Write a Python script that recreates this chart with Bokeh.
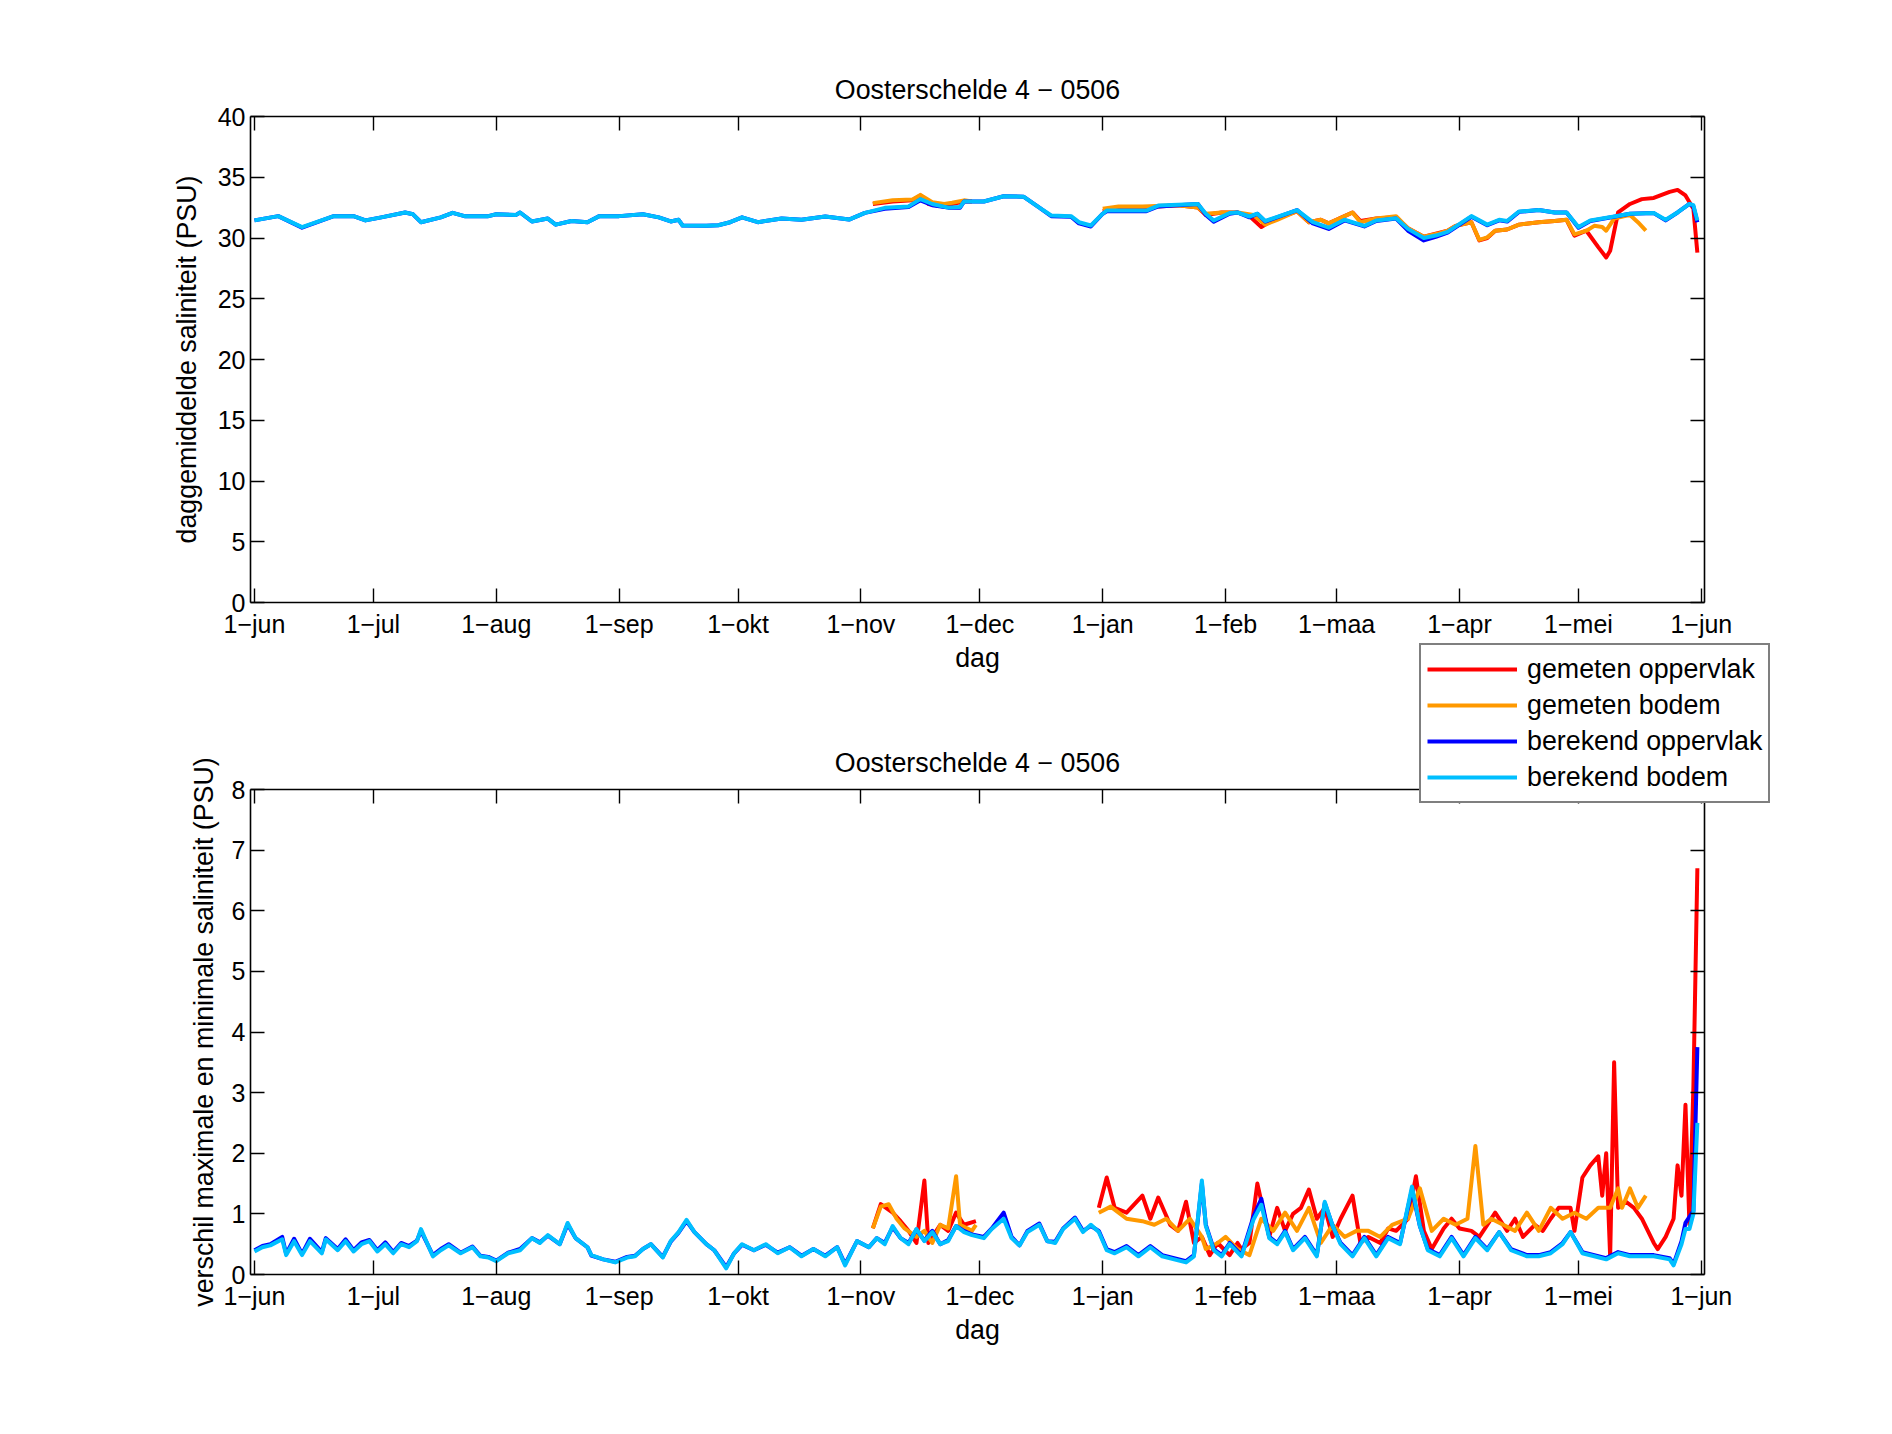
from bokeh.plotting import figure
from bokeh.models import FixedTicker, LinearAxis, Legend, LegendItem, Range1d
from bokeh.layouts import column
from bokeh.embed import file_html
from bokeh.resources import INLINE

# ---------------- data (day 0 = 1 June 2005) ----------------
month_days = [0, 30, 61, 92, 122, 153, 183, 214, 245, 273, 304, 334, 365]
month_labels = ["1\u2212jun", "1\u2212jul", "1\u2212aug", "1\u2212sep", "1\u2212okt", "1\u2212nov",
                "1\u2212dec", "1\u2212jan", "1\u2212feb", "1\u2212maa", "1\u2212apr", "1\u2212mei", "1\u2212jun"]

# top panel: daily mean salinity
ber_bodem_day = [0, 6, 12, 20, 25, 28, 32, 38, 40, 42, 47, 50, 53, 59, 61, 66, 67, 70, 74, 76, 80, 84, 87, 92,
                 98, 102, 105, 107, 108, 114, 117, 120, 123, 127, 133, 138, 144, 150, 154, 159, 165, 168, 171,
                 175, 178, 179, 184, 189, 194, 198, 201, 206, 208, 211, 214, 215, 225, 228, 238, 240, 242, 246,
                 248, 251, 253, 255, 263, 267, 271, 275, 280, 283, 288, 291, 295, 298, 301, 307, 311, 314, 316,
                 319, 324, 328, 331, 334, 337, 343, 347, 353, 356, 359, 362, 363, 364]
ber_bodem_val = [31.45, 31.8, 30.9, 31.8, 31.8, 31.45, 31.7, 32.1, 31.95, 31.3, 31.7, 32.07, 31.8, 31.8, 31.95,
                 31.9, 32.1, 31.36, 31.6, 31.1, 31.4, 31.3, 31.8, 31.8, 31.95, 31.7, 31.36, 31.5, 31.03, 31.0,
                 31.05, 31.3, 31.7, 31.3, 31.6, 31.5, 31.77, 31.52, 32.07, 32.48, 32.6, 33.2, 32.8, 32.5, 32.55,
                 33.0, 33.0, 33.44, 33.4, 32.5, 31.85, 31.8, 31.3, 31.03, 32.0, 32.26, 32.26, 32.67, 32.8, 32.0,
                 31.44, 32.05, 32.1, 31.77, 32.0, 31.4, 32.3, 31.3, 30.85, 31.5, 31.0, 31.44, 31.63, 30.75, 30.0,
                 30.2, 30.5, 31.8, 31.1, 31.5, 31.4, 32.18, 32.3, 32.1, 32.1, 30.9, 31.44, 31.77, 32.0, 32.05,
                 31.5, 32.1, 32.8, 32.7, 31.44]
ber_opp_day = ber_bodem_day
ber_opp_val = [31.45, 31.8, 30.85, 31.8, 31.8, 31.45, 31.7, 32.1, 31.95, 31.3, 31.7, 32.07, 31.8, 31.8, 31.95,
               31.9, 32.1, 31.36, 31.6, 31.1, 31.4, 31.3, 31.8, 31.8, 31.95, 31.7, 31.36, 31.5, 31.03, 31.0,
               31.05, 31.3, 31.7, 31.3, 31.6, 31.5, 31.77, 31.52, 32.07, 32.4, 32.55, 33.1, 32.7, 32.5, 32.5,
               33.0, 33.0, 33.44, 33.4, 32.5, 31.8, 31.75, 31.2, 30.95, 32.0, 32.2, 32.2, 32.6, 32.8, 31.9,
               31.35, 32.0, 32.1, 31.7, 32.0, 31.35, 32.3, 31.2, 30.75, 31.45, 30.95, 31.4, 31.6, 30.6, 29.8,
               30.1, 30.45, 31.75, 31.05, 31.45, 31.35, 32.15, 32.3, 32.1, 32.1, 30.85, 31.4, 31.75, 32.0, 32.05,
               31.45, 32.1, 32.8, 32.6, 31.3]

gem_opp_day = [156, 161, 166, 168, 170, 172, 174, 176, 179, 181, None,
               214, 218, 224, 228, 233, 238, 240, 244, 248, 251, 254, 257, 263, 266, 269, 271, 275, 277, 279,
               283, 288, 291, 295, 301, 303, 307, 309, 311, 313, 316, 319, 324, 328, 331, 333, 336, 339, 341,
               342, 344, 347, 350, 353, 357, 359, 361, 363, 364]
gem_opp_val = [32.8, 33.0, 33.1, 33.5, 32.8, 32.7, 32.6, 32.8, 33.0, 33.0, None,
               32.2, 32.5, 32.5, 32.6, 32.7, 32.5, 31.9, 32.1, 32.1, 31.8, 30.9, 31.5, 32.2, 31.3, 31.5, 31.2,
               31.8, 32.1, 31.4, 31.6, 31.7, 30.8, 30.1, 30.6, 31.0, 31.3, 29.8, 30.0, 30.6, 30.7, 31.1, 31.3,
               31.4, 31.5, 30.2, 30.6, 29.25, 28.4, 28.95, 32.1, 32.8, 33.2, 33.3, 33.8, 33.96, 33.5, 32.4, 28.8]
gem_bodem_day = [156, 161, 166, 168, 171, 174, 176, 179, 181, None,
                 214, 218, 224, 233, 238, 240, 244, 248, 252, 255, 258, 263, 266, 269, 271, 277, 279, 283, 288,
                 291, 295, 299, 301, 303, 307, 309, 311, 313, 316, 319, 324, 328, 331, 333, 336, 338, 340, 341,
                 343, 347, 349, 351]
gem_bodem_val = [32.87, 33.1, 33.17, 33.55, 32.95, 32.8, 32.9, 33.1, 33.0, None,
                 32.4, 32.6, 32.6, 32.7, 32.5, 32.0, 32.1, 32.1, 31.9, 31.1, 31.5, 32.2, 31.3, 31.5, 31.2, 32.1,
                 31.3, 31.6, 31.8, 30.8, 30.1, 30.4, 30.6, 31.0, 31.3, 29.85, 30.05, 30.6, 30.7, 31.1, 31.3, 31.4,
                 31.5, 30.3, 30.6, 31.0, 30.9, 30.6, 31.6, 31.9, 31.3, 30.6]

# bottom panel: daily max - min salinity
d_ber_bodem_day = [0, 2, 4, 7, 8, 10, 12, 14, 17, 18, 21, 23, 25, 27, 29, 31, 33, 35, 37, 39, 41, 42, 45, 47,
                   49, 52, 55, 57, 59, 61, 64, 67, 70, 72, 74, 77, 79, 81, 84, 85, 88, 91, 94, 96, 98, 100,
                   103, 105, 107, 109, 111, 114, 116, 119, 121, 123, 126, 129, 132, 135, 138, 141, 144, 147,
                   149, 152,
                   155, 157, 159, 161, 163, 165, 167, 169, 171, 173, 175, 177, 179, 181, 184, 186, 189, 191,
                   193, 195, 198, 200, 202, 204, 207, 209, 211, 213, 215, 217, 220, 223, 226, 229, 232, 235,
                   237, 239, 240, 242, 244, 246, 249, 252, 254, 256, 258, 260, 262, 265, 268, 270, 272, 274,
                   277, 280, 283, 286, 289, 292, 294, 296, 299, 302, 305, 308, 311, 314, 317, 321, 324, 327,
                   330, 332, 335, 338, 341, 344, 347, 350, 353, 357, 358, 360, 361, 362, 363, 364]
d_ber_bodem_val = [0.38, 0.45, 0.48, 0.58, 0.32, 0.55, 0.32, 0.55, 0.35, 0.58, 0.40, 0.55, 0.38, 0.50, 0.55,
                   0.38, 0.50, 0.35, 0.50, 0.45, 0.55, 0.75, 0.30, 0.40, 0.48, 0.35, 0.45, 0.30, 0.28, 0.22,
                   0.35, 0.40, 0.60, 0.52, 0.65, 0.50, 0.85, 0.60, 0.45, 0.32, 0.25, 0.20, 0.28, 0.30, 0.42,
                   0.50, 0.28, 0.55, 0.70, 0.90, 0.70, 0.50, 0.40, 0.10, 0.35, 0.50, 0.40, 0.50, 0.35, 0.45,
                   0.30, 0.42, 0.30, 0.45, 0.15, 0.55,
                   0.45, 0.60, 0.50, 0.80, 0.60, 0.50, 0.75, 0.55, 0.70, 0.50, 0.55, 0.80, 0.70, 0.65, 0.60,
                   0.75, 0.92, 0.60, 0.48, 0.70, 0.82, 0.55, 0.52, 0.75, 0.92, 0.70, 0.82, 0.70, 0.40, 0.35,
                   0.45, 0.30, 0.45, 0.30, 0.25, 0.20, 0.30, 1.55, 0.80, 0.40, 0.30, 0.50, 0.30, 0.90, 1.15,
                   0.60, 0.50, 0.70, 0.40, 0.60, 0.30, 1.20, 0.80, 0.50, 0.30, 0.60, 0.30, 0.60, 0.50, 1.45,
                   0.80, 0.40, 0.30, 0.60, 0.30, 0.60, 0.40, 0.70, 0.40, 0.30, 0.30, 0.35, 0.50, 0.70, 0.35,
                   0.30, 0.25, 0.35, 0.30, 0.30, 0.30, 0.25, 0.15, 0.50, 0.75, 0.75, 1.00, 2.50]
d_ber_opp_day = d_ber_bodem_day
d_ber_opp_val = [0.40, 0.47, 0.50, 0.62, 0.34, 0.59, 0.34, 0.59, 0.37, 0.60, 0.42, 0.58, 0.40, 0.53, 0.57,
                 0.40, 0.53, 0.37, 0.52, 0.47, 0.56, 0.72, 0.32, 0.42, 0.50, 0.36, 0.46, 0.31, 0.29, 0.23,
                 0.36, 0.42, 0.60, 0.53, 0.64, 0.50, 0.83, 0.60, 0.45, 0.31, 0.25, 0.21, 0.29, 0.31, 0.42,
                 0.50, 0.29, 0.54, 0.69, 0.88, 0.70, 0.50, 0.40, 0.12, 0.35, 0.49, 0.40, 0.49, 0.36, 0.45,
                 0.31, 0.42, 0.31, 0.45, 0.17, 0.55,
                 0.45, 0.60, 0.52, 0.78, 0.60, 0.52, 0.74, 0.56, 0.72, 0.50, 0.57, 0.80, 0.72, 0.66, 0.62,
                 0.76, 1.02, 0.62, 0.48, 0.72, 0.84, 0.55, 0.54, 0.76, 0.94, 0.72, 0.80, 0.72, 0.42, 0.37,
                 0.47, 0.32, 0.47, 0.32, 0.27, 0.22, 0.32, 1.50, 0.82, 0.42, 0.32, 0.52, 0.32, 0.95, 1.25,
                 0.62, 0.52, 0.72, 0.42, 0.62, 0.32, 1.18, 0.80, 0.52, 0.32, 0.62, 0.32, 0.62, 0.52, 1.40,
                 0.80, 0.42, 0.32, 0.62, 0.32, 0.62, 0.42, 0.70, 0.42, 0.32, 0.32, 0.37, 0.52, 0.70, 0.37,
                 0.32, 0.27, 0.37, 0.32, 0.32, 0.32, 0.27, 0.17, 0.55, 0.85, 0.95, 1.05, 3.75]

d_gem_opp_day = [156, 158, 161, 163, 165, 167, 169, 170, 173, 175, 177, 179, 182, None,
                 213, 215, 217, 220, 224, 226, 228, 231, 233, 235, 237, 239, 241, 243, 246, 248, 249, 251, 253,
                 256, 258, 260, 262, 264, 266, 268, 270, 272, 274, 277, 279, 281, 284, 286, 288, 291, 293, 295,
                 297, 300, 302, 304, 307, 309, 311, 313, 316, 318, 320, 323, 325, 327, 329, 332, 333, 335, 337,
                 339, 340, 341, 342, 343, 344, 346, 348, 350, 353, 354, 356, 358, 359, 360, 361, 362, 363, 364]
d_gem_opp_val = [0.76, 1.16, 1.02, 0.88, 0.72, 0.52, 1.55, 0.52, 0.82, 0.72, 1.02, 0.82, 0.88, None,
                 1.10, 1.60, 1.10, 1.02, 1.30, 0.92, 1.27, 0.82, 0.72, 1.20, 0.52, 0.62, 0.32, 0.52, 0.32, 0.52,
                 0.42, 0.52, 1.50, 0.62, 1.10, 0.72, 1.00, 1.10, 1.40, 0.92, 1.10, 0.62, 0.92, 1.30, 0.52, 0.62,
                 0.52, 0.76, 0.72, 0.92, 1.62, 0.72, 0.42, 0.76, 0.92, 0.76, 0.72, 0.62, 0.82, 1.02, 0.72, 0.92,
                 0.62, 0.82, 0.72, 0.92, 1.10, 1.10, 0.72, 1.60, 1.80, 1.95, 1.30, 2.00, 0.30, 3.50, 1.10, 1.20,
                 1.10, 0.92, 0.52, 0.42, 0.62, 0.92, 1.80, 1.30, 2.80, 0.82, 3.10, 6.70]
d_gem_bodem_day = [156, 158, 160, 162, 164, 167, 169, 171, 173, 175, 177, 178, 181, 182, None,
                   213, 216, 218, 220, 224, 227, 230, 233, 236, 239, 240, 243, 245, 248, 251, 254, 257, 260,
                   263, 266, 269, 272, 275, 278, 281, 284, 287, 291, 294, 297, 300, 303, 306, 308, 310, 312,
                   315, 318, 321, 324, 327, 330, 333, 336, 339, 342, 344, 345, 347, 349, 351]
d_gem_bodem_val = [0.76, 1.12, 1.16, 0.92, 0.76, 0.62, 0.72, 0.52, 0.82, 0.76, 1.62, 0.82, 0.72, 0.82, None,
                   1.02, 1.12, 1.02, 0.92, 0.88, 0.82, 0.92, 0.72, 0.92, 0.62, 0.42, 0.52, 0.62, 0.42, 0.32,
                   0.92, 0.72, 1.02, 0.72, 1.10, 0.52, 0.82, 0.62, 0.72, 0.72, 0.62, 0.82, 0.92, 1.42, 0.72,
                   0.92, 0.82, 0.92, 2.12, 0.82, 0.92, 0.82, 0.72, 1.02, 0.72, 1.10, 0.92, 1.02, 0.92, 1.10,
                   1.10, 1.42, 1.10, 1.42, 1.10, 1.30]

title_text = "Oosterschelde 4 \u2212 0506"
series_names = ["gemeten oppervlak", "gemeten bodem", "berekend oppervlak", "berekend bodem"]
series_colors = ["#FF0000", "#FF9900", "#0000FF", "#00BFFF"]

FONT = "Liberation Sans"
FS_TICK = "25px"
FS_LAB = "26.8px"
W = 1876
LW = 4.0


def nanify(v):
    return [float("nan") if a is None else a for a in v]


def style_axes(p, yticks):
    for ax in p.xaxis + p.yaxis:
        ax.axis_line_color = "black"
        ax.axis_line_width = 1.6
        ax.major_tick_line_color = "black"
        ax.major_tick_line_width = 1.4
        ax.major_tick_in = 14
        ax.major_tick_out = 0
        ax.minor_tick_line_color = None
        ax.major_label_text_font = FONT
        ax.major_label_text_font_size = FS_TICK
        ax.major_label_text_color = "black"
        ax.axis_label_text_font = FONT
        ax.axis_label_text_font_size = FS_LAB
        ax.axis_label_text_font_style = "normal"
        ax.axis_label_text_color = "black"
    p.xaxis.ticker = FixedTicker(ticks=month_days)
    p.xaxis.major_label_overrides = {d: l for d, l in zip(month_days, month_labels)}
    p.yaxis.ticker = FixedTicker(ticks=yticks)
    p.xaxis.major_label_standoff = 7
    p.xaxis.axis_label_standoff = 2
    p.yaxis.major_label_standoff = 5
    # box axes (top / right) with ticks only
    top = LinearAxis(ticker=FixedTicker(ticks=month_days),
                     major_label_overrides={d: "" for d in month_days})
    right = LinearAxis(ticker=FixedTicker(ticks=yticks),
                       major_label_overrides={t: "" for t in yticks})
    for ax in (top, right):
        ax.axis_line_color = "black"
        ax.axis_line_width = 1.6
        ax.major_tick_line_color = "black"
        ax.major_tick_line_width = 1.4
        ax.major_tick_in = 14
        ax.major_tick_out = 0
        ax.minor_tick_line_color = None
        ax.major_label_standoff = 0
        ax.major_label_text_font_size = "1px"
    p.add_layout(top, "above")
    p.add_layout(right, "right")
    p.xgrid.visible = False
    p.ygrid.visible = False
    p.outline_line_color = None
    p.title.text_font = FONT
    p.title.text_font_size = FS_LAB
    p.title.text_font_style = "normal"
    p.title.align = "center"
    p.title.text_color = "black"
    p.title.standoff = 23
    p.frame_align = False


# ---------------- top figure ----------------
p1 = figure(width=W, height=680, output_backend="svg", toolbar_location=None,
            x_range=Range1d(-1.0, 365.8), y_range=Range1d(0, 40),
            min_border_left=250, min_border_right=W - 1704, min_border_top=116, min_border_bottom=78,
            title=title_text, x_axis_label="dag", y_axis_label="daggemiddelde saliniteit (PSU)")
p1.border_fill_color = "white"
style_axes(p1, [0, 5, 10, 15, 20, 25, 30, 35, 40])
p1.yaxis[0].axis_label_standoff = 13
top_series = [(gem_opp_day, gem_opp_val), (gem_bodem_day, gem_bodem_val),
              (ber_opp_day, ber_opp_val), (ber_bodem_day, ber_bodem_val)]
for (dx, dy), c in zip(top_series, series_colors):
    p1.line(nanify(dx), nanify(dy), line_color=c, line_width=LW, line_join="round")

# ---------------- bottom figure ----------------
p2 = figure(width=W, height=786, output_backend="svg", toolbar_location=None,
            x_range=Range1d(-1.0, 365.8), y_range=Range1d(0, 8),
            min_border_left=250, min_border_right=W - 1704, min_border_top=149, min_border_bottom=152,
            title=title_text, x_axis_label="dag",
            y_axis_label="verschil maximale en minimale saliniteit (PSU)")
p2.border_fill_color = None
p2.background_fill_color = "white"
style_axes(p2, [0, 1, 2, 3, 4, 5, 6, 7, 8])
p2.yaxis[0].axis_label_standoff = 10
p2.margin = (-40, 0, 0, 0)
bot_series = [(d_gem_opp_day, d_gem_opp_val), (d_gem_bodem_day, d_gem_bodem_val),
              (d_ber_opp_day, d_ber_opp_val), (d_ber_bodem_day, d_ber_bodem_val)]
for (dx, dy), c in zip(bot_series, series_colors):
    p2.line(nanify(dx), nanify(dy), line_color=c, line_width=LW, line_join="round")

# ---------------- legend (overlaid box between the two panels) ----------------
LEG_W = 352
pl = figure(width=W, height=160, output_backend="svg", toolbar_location=None,
            x_axis_type=None, y_axis_type=None,
            min_border_left=1419, min_border_right=W - 1419 - LEG_W, min_border_top=0, min_border_bottom=0)
pl.frame_align = False
pl.xgrid.visible = False
pl.ygrid.visible = False
pl.outline_line_color = None
pl.border_fill_color = None
pl.background_fill_color = None
pl.margin = (643 - (640 + 786), 0, 0, 0)
leg_rends = []
for (dx, dy), c in zip(bot_series, series_colors):
    r = pl.line(nanify(dx), nanify(dy), line_color=c, line_width=LW)
    r.visible = False
    leg_rends.append(r)
legend = Legend(items=[LegendItem(label=n, renderers=[r]) for n, r in zip(series_names, leg_rends)],
                location="top_left", margin=0, padding=6, spacing=0,
                glyph_width=90, glyph_height=36, label_height=36, label_standoff=10,
                label_text_font=FONT, label_text_font_size=FS_LAB, label_text_color="black",
                border_line_color="black", border_line_width=2.0,
                background_fill_color="white", background_fill_alpha=1.0)
pl.add_layout(legend, "center")

layout = column(p1, p2, pl)
open("out.html", "w").write(file_html(layout, INLINE))
